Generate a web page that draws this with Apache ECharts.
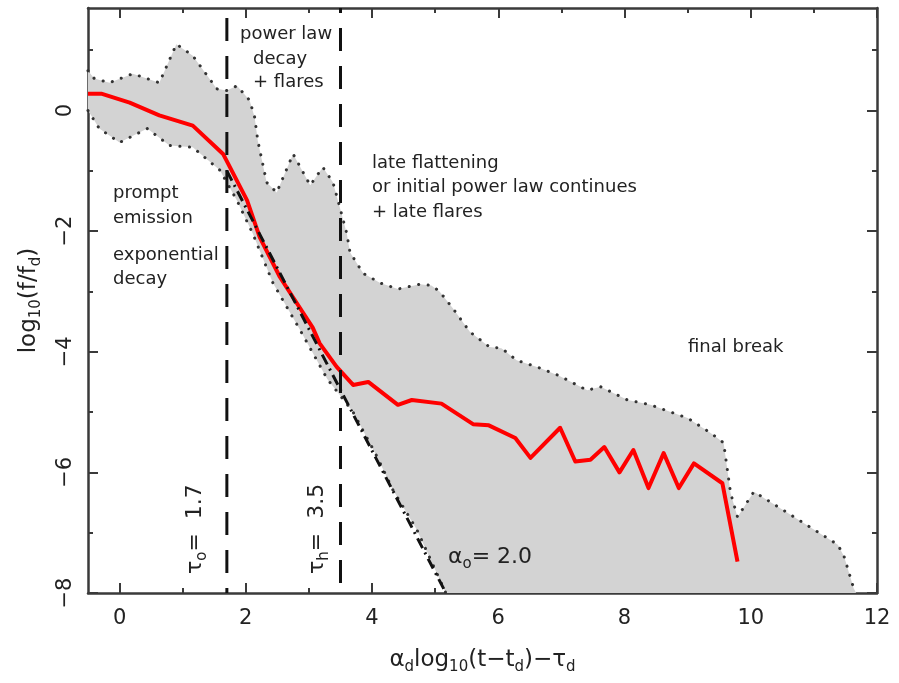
<!DOCTYPE html>
<html>
<head>
<meta charset="utf-8">
<script src="https://cdn.jsdelivr.net/npm/echarts@6/dist/echarts.min.js"></script>
<style>
  html, body { margin: 0; padding: 0; background: #ffffff; }
  #chart { width: 899px; height: 683px; }
</style>
</head>
<body>
<div id="chart"></div>
<script>
// Median light curve (red)
const medianX = [-0.5, -0.29, 0.16, 0.63, 1.16, 1.64, 2.02, 2.22, 2.54, 2.75, 3.06, 3.17, 3.44, 3.7, 3.94, 4.41, 4.63, 5.1, 5.6, 5.85, 6.27, 6.51, 6.98, 7.22, 7.46, 7.68, 7.92, 8.14, 8.38, 8.62, 8.86, 9.1, 9.55, 9.79];
const medianY = [0.28, 0.28, 0.13, -0.08, -0.25, -0.72, -1.49, -2.1, -2.76, -3.1, -3.6, -3.86, -4.25, -4.55, -4.5, -4.88, -4.8, -4.86, -5.2, -5.22, -5.43, -5.76, -5.26, -5.82, -5.79, -5.58, -6.0, -5.63, -6.26, -5.68, -6.26, -5.85, -6.18, -7.48];

// Upper edge of the spread (dotted)
const upperX = [-0.5, -0.4, -0.16, 0.21, 0.63, 0.9, 1.16, 1.54, 1.7, 1.86, 2.06, 2.14, 2.19, 2.33, 2.49, 2.75, 3.02, 3.22, 3.38, 3.46, 3.6, 3.65, 3.86, 4.13, 4.41, 4.76, 4.94, 5.07, 5.28, 5.55, 5.86, 6.05, 6.29, 6.66, 6.97, 7.41, 7.62, 8.05, 8.41, 9.0, 9.37, 9.57, 9.68, 9.79, 10.05, 10.43, 11.38, 11.48, 11.63, 11.67];
const upperY = [0.66, 0.53, 0.46, 0.61, 0.46, 1.1, 0.91, 0.36, 0.33, 0.41, 0.17, -0.11, -0.5, -1.19, -1.36, -0.72, -1.24, -0.94, -1.19, -1.49, -2.04, -2.35, -2.7, -2.86, -2.96, -2.88, -2.9, -3.0, -3.28, -3.67, -3.92, -3.94, -4.14, -4.27, -4.4, -4.64, -4.58, -4.8, -4.88, -5.1, -5.35, -5.51, -6.34, -6.74, -6.32, -6.57, -7.2, -7.4, -7.92, -8.0];

// Lower edge of the spread (dotted)
const lowerX = [-0.5, -0.32, 0.0, 0.44, 0.79, 1.16, 1.59, 1.86, 2.11, 2.43, 2.86, 3.29, 3.7, 4.08, 4.33, 4.71, 5.17];
const lowerY = [0.0, -0.3, -0.53, -0.3, -0.58, -0.61, -0.99, -1.49, -2.04, -2.86, -3.64, -4.45, -5.0, -5.74, -6.29, -6.95, -8.0];

// Power-law decay with alpha_o = 2.0 (dash-dot)
const alphaX = [1.7, 5.17];
const alphaY = [-1.0, -8.0];

// Break times
const tauO = 1.7;
const tauH = 3.5;

// Axis ranges and ticks
const xRange = [-0.5, 12];
const yRange = [-8, 1.7];
const xMajor = [0, 2, 4, 6, 8, 10, 12];
const xMinor = [1, 3, 5, 7, 9, 11];
const yMajor = [-8, -6, -4, -2, 0];
const yMinor = [-7, -5, -3, -1, 1];

const zip = (xs, ys) => xs.map((x, i) => [x, ys[i]]);
const FONT = 'DejaVu Sans';
const INK = '#222';
const FRAME = '#3a3a3a';
const minusFmt = v => (v < 0 ? '\u2212' + Math.abs(v) : String(v));

function xAxisDef(pos, ticks, len, showLine, labels) {
  return {
    type: 'value', position: pos, min: xRange[0], max: xRange[1],
    axisLine: { show: showLine, onZero: false, lineStyle: { color: FRAME, width: 2.5 } },
    axisTick: { show: true, inside: true, length: len, customValues: ticks, lineStyle: { color: FRAME, width: 2 } },
    axisLabel: labels ? { show: true, customValues: ticks, margin: 15, fontFamily: FONT, fontSize: 21, color: INK, formatter: minusFmt } : { show: false },
    splitLine: { show: false }
  };
}
function yAxisDef(pos, ticks, len, showLine, labels) {
  return {
    type: 'value', position: pos, min: yRange[0], max: yRange[1],
    axisLine: { show: showLine, onZero: false, lineStyle: { color: FRAME, width: 2.5 } },
    axisTick: { show: true, inside: true, length: len, customValues: ticks, lineStyle: { color: FRAME, width: 2 } },
    axisLabel: labels ? { show: true, customValues: ticks, rotate: 90, margin: 12, fontFamily: FONT, fontSize: 21, color: INK, formatter: minusFmt } : { show: false },
    splitLine: { show: false }
  };
}

const xMain = xAxisDef('bottom', xMajor, 10, true, true);
xMain.name = '{m|\u03b1}{s|d}{m|log}{s|10}{m|(t\u2212t}{s|d}{m|)\u2212\u03c4}{s|d}';
xMain.nameLocation = 'middle';
xMain.nameGap = 52;
xMain.nameTextStyle = {
  fontFamily: FONT, color: INK,
  rich: {
    m: { fontFamily: FONT, fontSize: 23, color: INK, lineHeight: 30, verticalAlign: 'middle' },
    s: { fontFamily: FONT, fontSize: 15, color: INK, lineHeight: 15, verticalAlign: 'bottom' }
  }
};

const yMain = yAxisDef('left', yMajor, 10, true, true);
yMain.name = '{m|log}{s|10}{m|(f/f}{s|d}{m|)}';
yMain.nameLocation = 'middle';
yMain.nameGap = 44;
yMain.nameRotate = 90;
yMain.nameTextStyle = {
  fontFamily: FONT, color: INK,
  rich: {
    m: { fontFamily: FONT, fontSize: 23, color: INK, lineHeight: 30, verticalAlign: 'middle' },
    s: { fontFamily: FONT, fontSize: 15, color: INK, lineHeight: 15, verticalAlign: 'bottom' }
  }
};

const chart = echarts.init(document.getElementById('chart'), null, { renderer: 'canvas' });

const richSub = {
  m: { fontFamily: FONT, fontSize: 22, fill: INK, lineHeight: 30, verticalAlign: 'middle' },
  s: { fontFamily: FONT, fontSize: 15, fill: INK, lineHeight: 15, verticalAlign: 'bottom' }
};

function note(txt, x, y) {
  return { type: 'text', x: x, y: y, z: 50,
    style: { text: txt, fontFamily: FONT, fontSize: 18, fill: INK, align: 'left', verticalAlign: 'middle' } };
}

chart.setOption({
  animation: false,
  backgroundColor: '#ffffff',
  grid: { left: 88, right: 22, top: 8, bottom: 90, containLabel: false },
  xAxis: [
    xMain,
    xAxisDef('bottom', xMinor, 5, false, false),
    xAxisDef('top', xMajor, 10, true, false),
    xAxisDef('top', xMinor, 5, false, false)
  ],
  yAxis: [
    yMain,
    yAxisDef('left', yMinor, 5, false, false),
    yAxisDef('right', yMajor, 10, true, false),
    yAxisDef('right', yMinor, 5, false, false)
  ],
  series: [
    {
      // shaded spread between the two dotted edges
      type: 'custom',
      clip: true,
      z: 1,
      silent: true,
      data: [0],
      renderItem: function (params, api) {
        const pts = [];
        for (let i = 0; i < upperX.length; i++) pts.push(api.coord([upperX[i], upperY[i]]));
        for (let i = lowerX.length - 1; i >= 0; i--) pts.push(api.coord([lowerX[i], lowerY[i]]));
        return { type: 'polygon', shape: { points: pts }, style: { fill: '#d3d3d3', stroke: null } };
      }
    },
    {
      type: 'line', z: 2, data: zip(upperX, upperY), symbol: 'none', silent: true,
      lineStyle: { color: '#333', width: 3, type: [0.1, 9.5], cap: 'round' }
    },
    {
      type: 'line', z: 2, data: zip(lowerX, lowerY), symbol: 'none', silent: true,
      lineStyle: { color: '#333', width: 3, type: [0.1, 9.5], cap: 'round' }
    },
    {
      type: 'line', z: 3, data: zip(medianX, medianY), symbol: 'none', silent: true,
      lineStyle: { color: '#ff0000', width: 4, join: 'round' }
    },
    {
      type: 'line', z: 4, data: zip(alphaX, alphaY), symbol: 'none', silent: true,
      lineStyle: { color: '#111', width: 3, type: [11, 5, 2, 5] }
    },
    {
      type: 'line', z: 4, data: [[tauO, yRange[1]], [tauO, yRange[0]]], symbol: 'none', silent: true,
      lineStyle: { color: '#111', width: 3, type: [23, 15], dashOffset: 28 }
    },
    {
      type: 'line', z: 4, data: [[tauH, yRange[1]], [tauH, yRange[0]]], symbol: 'none', silent: true,
      lineStyle: { color: '#111', width: 3, type: [23, 15], dashOffset: 18 }
    }
  ],
  graphic: [
    note('power law', 240, 34),
    note('decay', 253, 59),
    note('+ flares', 253, 82),
    note('prompt', 113, 193),
    note('emission', 113, 218),
    note('exponential', 113, 255),
    note('decay', 113, 279),
    note('late flattening', 372, 163),
    note('or initial power law continues', 372, 187),
    note('+ late flares', 372, 212),
    note('final break', 688, 347),
    { type: 'text', x: 195, y: 574, rotation: Math.PI / 2, z: 50,
      style: { text: '{m|\u03c4}{s|o}{m|=  1.7}', rich: richSub, align: 'left', verticalAlign: 'middle' } },
    { type: 'text', x: 317, y: 574, rotation: Math.PI / 2, z: 50,
      style: { text: '{m|\u03c4}{s|h}{m|=  3.5}', rich: richSub, align: 'left', verticalAlign: 'middle' } },
    { type: 'text', x: 448, y: 557, z: 50,
      style: { text: '{m|\u03b1}{s|o}{m|= 2.0}', rich: richSub, align: 'left', verticalAlign: 'middle' } }
  ]
});
</script>
</body>
</html>
